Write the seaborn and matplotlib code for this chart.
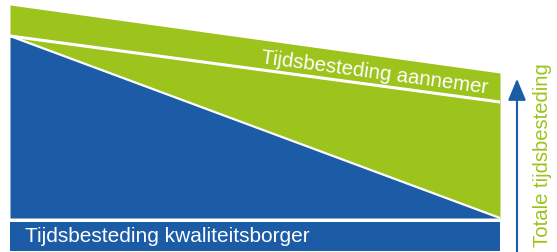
import numpy as np
import matplotlib
matplotlib.use("Agg")
import matplotlib.pyplot as plt
from matplotlib.patches import FancyArrowPatch
import seaborn as sns

# phases (start -> end) and layer heights
fase = [0, 1]
basis = [29, 29]                 # bottom bar: kwaliteitsborger
tussenruimte = [4, 4]            # white gap above bar
kwaliteitsborger = [182, 0]      # shrinking blue part
verschuiving = [0, 116]          # work moved to the contractor
aannemer = [31, 29]              # contractor band on top

labels = ["Tijdsbesteding kwaliteitsborger", "Tijdsbesteding aannemer", "Totale tijdsbesteding"]

blauw = "#1c5ca7"
groen = "#9dc31d"

sns.set_theme(style="white")
plt.rcParams["font.family"] = ["Liberation Sans", "DejaVu Sans"]

W, H = 557, 252
fig = plt.figure(figsize=(W / 100, H / 100), dpi=100)
ax = fig.add_axes([10 / W, 0, 490 / W, 1])

x = np.array(fase)
b0 = np.array(basis)
b1 = b0 + np.array(tussenruimte)
b2 = b1 + np.array(kwaliteitsborger)
b3 = b2 + np.array(verschuiving)
b4 = b3 + np.array(aannemer)

ax.fill_between(x, 0, b0, color=blauw, lw=0)
ax.fill_between(x, b1, b2, color=blauw, lw=0)
ax.fill_between(x, b2, b4, color=groen, lw=0)

# white division lines
sns.lineplot(x=x, y=b2, color="white", lw=1.6, ax=ax)
sns.lineplot(x=x, y=b3, color="white", lw=2.2, ax=ax)

ax.set_xlim(0, 1)
ax.set_ylim(-1, 251)
ax.axis("off")

ax.text(0.03, basis[0] / 2, labels[0], color="white", fontsize=15,
        ha="left", va="center")

# label along the sloped band
ang = np.degrees(np.arctan((b3[1] - b3[0]) / 490))
pos = 0.745
ax.text(pos, b3[0] + (b3[1] - b3[0]) * pos + 12, labels[1], color="white",
        fontsize=14.7, rotation=ang, rotation_mode="anchor",
        ha="center", va="center")

# total time arrow
fig.patches.append(FancyArrowPatch(
    (517 / W, -0.02), (517 / W, 1 - 76 / H), transform=fig.transFigure,
    arrowstyle="-|>,head_length=0.6,head_width=0.25", mutation_scale=22,
    color=blauw, lw=1.5))
fig.text(543 / W, 1 - 155 / H, labels[2], color=groen, fontsize=14.6,
         rotation=90, ha="center", va="center")

fig.savefig("out.png", dpi=100)
